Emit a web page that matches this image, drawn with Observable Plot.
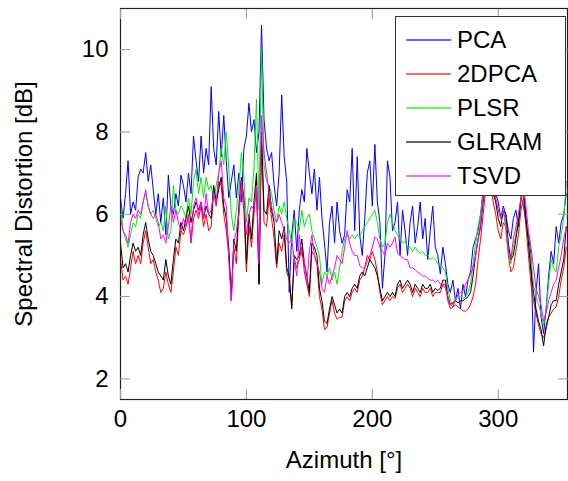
<!DOCTYPE html>
<html><head><meta charset="utf-8">
<script src="https://cdn.jsdelivr.net/npm/d3@7"></script>
<script src="https://cdn.jsdelivr.net/npm/@observablehq/plot@0.6"></script>
<style>
body{margin:0;background:#fff;}
#wrap{position:relative;width:568px;height:481px;font-family:"Liberation Sans",Arial,Helvetica,sans-serif;}
#legend{position:absolute;left:395px;top:16px;width:171px;height:180px;background:#fff;border:1px solid #333;box-sizing:border-box;}
.row{position:absolute;left:0;height:34px;width:100%;}
.sample{position:absolute;left:10px;width:45px;height:2px;top:16px;opacity:0.6;}
.lab{position:absolute;left:61px;top:2px;font-size:24px;line-height:30px;color:#000;}
</style>
</head><body>
<div id="wrap"><div id="chart"></div><div id="legend"></div></div>
<script>
const azimuth = d3.range(0, 356, 2);
const seriesNames = ["PCA", "2DPCA", "PLSR", "GLRAM", "TSVD"];
const seriesColors = ["#0000ff", "#ff0000", "#00ee00", "#000000", "#ff00ff"];
const xTicks = [0, 100, 200, 300];
const yTicks = [2, 4, 6, 8, 10];

const pca = [
6.4,5.9,6.5,7.3,6.0,6.3,6.1,6.9,7.1,7.0,
7.5,6.8,7.2,6.6,6.0,6.5,5.8,6.4,5.5,6.95,
6.2,6.0,6.5,6.2,6.95,6.7,6.3,7.0,6.5,7.9,
7.3,6.8,7.9,7.0,7.6,7.2,9.1,7.6,7.2,8.5,
7.4,8.4,7.3,6.4,6.8,7.2,6.4,7.0,6.3,7.6,
7.9,8.7,8.0,8.3,7.5,8.0,10.6,8.3,7.6,7.3,
7.5,6.7,6.2,7.0,8.9,7.4,6.8,4.1,5.5,6.1,
5.1,6.1,6.6,6.3,7.6,7.0,6.5,7.1,6.1,6.9,
5.9,5.3,4.6,5.8,6.2,5.3,6.3,5.6,5.3,5.5,
6.6,6.3,7.6,5.6,7.4,5.5,5.0,5.9,7.0,7.3,
6.2,7.7,6.3,5.8,4.2,5.0,7.3,6.9,5.6,5.8,
6.3,5.0,6.1,5.6,5.0,5.8,6.2,5.3,5.7,6.3,
5.4,5.9,4.9,5.6,6.2,5.2,5.0,4.55,5.2,4.8,
4.3,4.1,4.4,3.9,4.2,3.7,4.3,4.0,4.4,4.6,
5.2,5.4,5.6,6.0,6.6,7.0,7.4,7.2,6.8,6.5,
6.3,5.9,6.2,6.0,5.6,5.4,5.9,6.1,5.7,6.4,
6.2,5.8,5.5,5.0,2.65,4.1,4.8,3.5,3.1,3.7,
4.5,5.1,4.8,5.7,5.3,5.8,6.0,6.5];

const dpca2 = [
4.9,4.4,4.5,4.3,4.7,5.1,4.8,5.0,4.8,5.3,
5.6,5.2,4.8,4.9,4.6,4.4,4.1,4.2,4.6,4.3,
4.1,4.6,5.2,5.0,5.6,5.5,5.7,6.0,5.3,5.9,
6.1,5.9,6.2,5.7,6.0,5.6,5.7,6.5,6.2,6.8,
6.7,6.0,5.6,5.0,4.1,5.2,4.8,6.0,6.7,6.1,
4.6,5.7,5.2,6.0,6.8,4.3,7.8,5.8,5.7,6.4,
5.9,5.4,4.7,5.3,5.1,5.5,4.6,4.4,3.8,4.9,
4.7,4.9,5.2,4.6,4.3,4.0,5.1,5.0,4.8,4.0,
3.7,3.2,3.25,3.6,3.9,3.6,3.45,3.5,3.5,3.9,
4.0,3.9,4.1,4.2,4.1,4.4,4.5,4.7,5.0,4.9,
5.1,4.9,4.6,4.1,3.8,3.9,4.0,3.9,4.0,3.95,
4.2,4.3,4.1,4.2,4.3,4.2,4.0,4.2,4.1,4.0,
4.2,4.1,4.1,4.2,4.0,4.1,4.1,4.1,4.3,4.3,
3.9,3.7,3.75,3.8,3.75,3.7,3.65,3.65,3.7,3.8,
4.0,4.3,4.9,5.4,6.0,6.6,6.8,6.7,6.3,6.0,
5.6,5.4,5.8,5.7,5.0,4.6,4.7,5.1,5.5,6.1,
6.4,5.7,5.0,4.3,3.9,3.6,3.3,3.1,3.0,3.2,
3.5,3.6,3.7,3.75,4.0,4.4,4.7,5.2];

const plsr = [
6.3,5.6,5.4,5.2,5.5,5.8,5.7,6.0,5.9,6.3,
6.5,6.2,6.0,6.1,5.9,5.7,5.8,5.6,6.2,5.4,
5.6,6.7,6.1,6.0,6.2,6.1,5.9,6.4,6.0,6.8,
7.1,6.5,6.9,6.4,6.9,6.6,6.7,6.3,6.7,7.0,
7.6,7.2,8.0,7.1,6.0,5.6,6.1,6.6,7.5,6.9,
5.8,6.4,6.3,7.1,8.8,6.1,10.0,7.2,6.8,6.7,
6.5,6.1,5.8,6.2,6.0,6.3,5.9,5.6,5.3,5.9,
5.8,5.6,6.1,5.7,5.9,6.0,5.6,5.4,5.2,5.0,
4.3,4.6,4.5,4.7,4.4,4.6,4.3,4.7,5.1,5.4,
5.5,5.4,5.5,5.4,5.5,5.45,5.6,5.7,5.8,5.9,
6.0,6.1,5.8,5.4,5.2,5.3,5.8,6.0,5.8,5.6,
5.5,5.4,5.3,5.35,5.2,5.2,5.1,5.2,5.1,5.05,
5.1,5.0,5.0,4.9,4.95,4.9,4.8,4.8,4.7,4.6,
4.2,3.9,3.8,3.95,4.0,4.0,3.95,4.0,4.1,4.3,
4.8,5.3,5.7,6.0,6.5,7.0,7.2,7.0,6.7,6.3,
6.1,5.9,6.1,5.6,5.1,4.8,5.2,5.5,5.9,6.3,
6.6,6.0,5.3,4.9,4.3,4.0,3.8,3.6,3.3,3.7,
4.3,4.9,4.7,4.6,5.2,5.5,5.9,6.8];

const glram = [
5.3,4.7,4.8,4.6,5.0,5.3,5.1,5.2,5.0,5.5,
5.8,5.4,5.1,5.0,4.8,4.6,4.5,4.4,4.9,4.5,
4.3,4.9,5.4,5.3,5.8,5.6,5.9,6.2,5.8,6.1,
6.3,6.1,6.3,5.9,6.2,6.0,5.9,6.7,6.3,6.6,
6.9,6.2,5.9,5.2,3.9,5.4,5.1,6.2,6.9,6.4,
4.8,6.0,5.4,6.3,7.0,4.3,8.0,6.1,6.0,6.7,
6.1,5.8,4.8,5.6,5.4,5.7,4.7,4.5,3.7,5.0,
4.9,5.0,5.4,4.8,4.5,4.1,5.3,5.2,5.0,4.2,
3.9,3.4,3.35,3.7,4.0,3.8,3.6,3.7,3.6,4.0,
4.1,4.0,4.2,4.3,4.2,4.5,4.6,4.5,4.7,4.9,
4.8,4.7,4.5,4.2,3.9,4.0,4.1,4.0,4.1,4.0,
4.3,4.4,4.2,4.3,4.4,4.3,4.1,4.3,4.2,4.1,
4.3,4.2,4.2,4.3,4.1,4.2,4.15,4.2,4.4,4.4,
4.0,3.8,3.85,3.9,3.85,3.9,3.9,3.95,4.0,4.1,
4.5,5.0,5.4,5.7,6.3,6.8,7.0,6.9,6.5,6.3,
5.9,5.7,6.1,6.0,5.3,4.9,5.0,5.4,5.8,6.4,
6.6,5.9,5.3,4.6,4.1,3.7,3.4,3.2,2.8,3.3,
3.5,3.8,3.9,3.9,4.3,4.6,4.9,5.7];

const tsvd = [
5.9,5.6,5.5,5.3,5.8,6.0,5.9,6.1,6.0,6.3,
6.6,6.2,6.0,5.9,6.0,5.8,5.4,5.5,5.3,5.7,
6.2,5.8,6.1,5.8,5.6,5.9,5.7,5.9,5.4,6.2,
6.4,6.0,6.3,5.9,6.5,6.0,6.1,6.5,6.3,7.0,
7.3,6.4,6.2,4.9,3.9,5.3,5.6,6.0,6.8,6.3,
5.5,6.0,6.2,6.1,6.7,4.8,8.4,7.5,7.0,6.5,
6.2,5.9,5.8,6.0,5.8,5.6,5.4,5.3,5.4,4.9,
4.5,5.5,5.0,4.9,4.3,5.1,5.5,5.0,4.8,4.6,
4.2,4.1,4.5,4.3,4.5,4.7,5.0,4.9,4.8,5.2,
5.6,5.3,5.1,5.0,5.0,4.75,4.7,4.7,4.85,5.0,
5.2,5.45,5.4,5.2,5.1,5.0,5.3,5.2,5.3,5.45,
5.05,5.0,4.95,4.9,4.9,4.7,4.7,4.65,4.6,4.55,
4.5,4.5,4.45,4.4,4.4,4.35,4.4,4.3,4.3,4.2,
4.0,3.8,3.75,3.9,4.05,4.1,4.15,4.3,4.4,4.55,
4.7,5.0,5.4,5.8,6.4,6.9,7.1,7.0,6.8,6.4,
6.1,5.9,6.1,5.8,5.1,4.9,5.4,5.7,6.0,6.4,
6.7,6.2,5.6,5.2,4.7,4.2,4.0,3.8,3.4,3.6,
3.9,4.1,4.3,4.4,4.7,5.0,5.4,5.7];

const seriesValues = [pca, dpca2, plsr, glram, tsvd];
const rows = seriesNames.flatMap((name, k) =>
  seriesValues[k].map((v, i) => ({azimuth: azimuth[i], value: v, series: name})));

const font = '"Liberation Sans", Arial, Helvetica, sans-serif';
const chart = Plot.plot({
  width: 568,
  height: 481,
  marginLeft: 120,
  marginRight: 1,
  marginTop: 8,
  marginBottom: 82,
  style: {fontFamily: font, fontSize: "24px", background: "#fff", color: "#000"},
  x: {domain: [0, 355]},
  y: {domain: [1.5, 11]},
  color: {domain: seriesNames, range: seriesColors},
  marks: [
    Plot.lineY(rows, {x: "azimuth", y: "value", z: "series", stroke: "series", strokeWidth: 1}),
    Plot.frame({stroke: "#222", strokeWidth: 1.2}),
    Plot.axisX(xTicks, {anchor: "bottom", tickSize: 10, dy: -10, tickFormat: () => "", stroke: "#999", label: null}),
    Plot.axisX(xTicks, {anchor: "top", tickSize: 10, dy: 10, tickFormat: () => "", stroke: "#999", label: null}),
    Plot.axisY(yTicks, {anchor: "left", tickSize: 10, dx: 10, tickFormat: () => "", stroke: "#999", label: null}),
    Plot.axisY(yTicks, {anchor: "right", tickSize: 10, dx: -10, tickFormat: () => "", stroke: "#999", label: null}),
    Plot.axisX(xTicks, {anchor: "bottom", tickSize: 0, tickPadding: 10, fontSize: 24, label: "Azimuth [°]", labelAnchor: "center", labelOffset: 68, labelArrow: "none"}),
    Plot.axisY(yTicks, {anchor: "left", tickSize: 0, tickPadding: 12, fontSize: 24, label: "Spectral Distortion [dB]", labelAnchor: "center", labelOffset: 106, labelArrow: "none"})
  ]
});
document.getElementById("chart").appendChild(chart);

const legend = document.getElementById("legend");
seriesNames.forEach((name, k) => {
  const row = document.createElement("div");
  row.className = "row";
  row.style.top = (6 + k * 34) + "px";
  const s = document.createElement("div");
  s.className = "sample";
  s.style.background = seriesColors[k];
  const t = document.createElement("div");
  t.className = "lab";
  t.textContent = name;
  row.appendChild(s);
  row.appendChild(t);
  legend.appendChild(row);
});
</script>
</body></html>
